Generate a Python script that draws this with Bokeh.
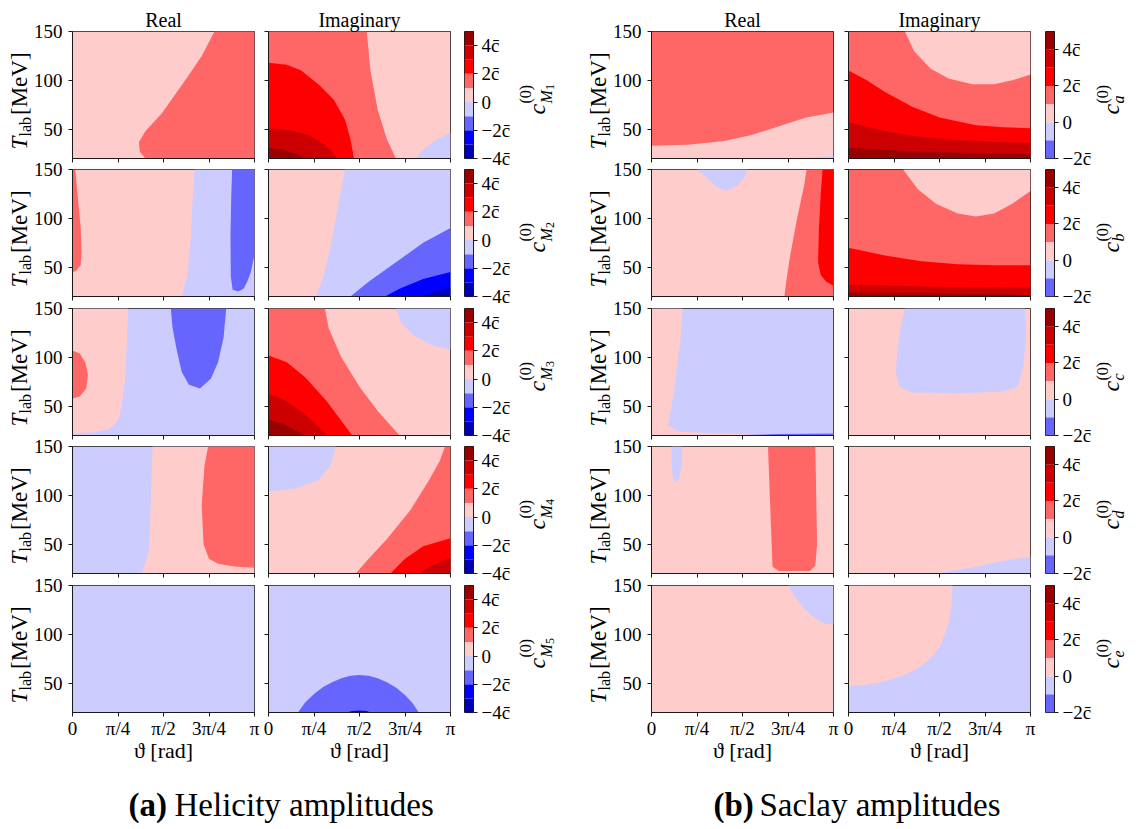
import math
from bokeh.plotting import figure
from bokeh.layouts import column, row
from bokeh.models import Label, FixedTicker, Range1d
from bokeh.embed import file_html
from bokeh.resources import INLINE

PI = math.pi
FONT = "Liberation Serif"

# ---------------- axes / scales ----------------
T_RANGE = (20, 150)
THETA_TICKS = [0.0, 0.25, 0.5, 0.75, 1.0]          # units of pi
THETA_TICK_LABELS = ["0", "π/4", "π/2", "3π/4", "π"]
T_TICKS = [50, 100, 150]
X_LABEL = "ϑ [rad]"

# colour bands: band k covers the level interval [k, k+1] (units of c-bar)
BAND_COLORS = {-4: "#0000b8", -3: "#0000ff", -2: "#6666ff", -1: "#ccccff",
               0: "#ffcccc", 1: "#ff6666", 2: "#ff0000", 3: "#cc0000", 4: "#990000"}

HEL_LEVELS = [-4, -3, -2, -1, 0, 1, 2, 3, 4, 5]
SAC_LEVELS = [-2, -1, 0, 1, 2, 3, 4, 5]
CB_TICKS = [-4, -2, 0, 2, 4]
CB_TICK_LABELS = ["−4c̄", "−2c̄", "0", "2c̄", "4c̄"]

COLUMN_TITLES = ["Real", "Imaginary"]
HEL_SUBS = ["1", "2", "3", "4", "5"]
SAC_SUBS = ["a", "b", "c", "d", "e"]
CAPTIONS = [("(a)", "Helicity amplitudes"), ("(b)", "Saclay amplitudes")]

# ---------------- contour regions ----------------
# each region: (band, theta/pi list, T_lab [MeV] list); *_base = background band
hel_M1_re_base = 0
hel_M1_re = [
    (1, [0.78, 1, 1, 0.40, 0.37, 0.365, 0.40, 0.49, 0.63, 0.71, 0.78],
        [150, 150, 20, 20, 27, 37, 48, 66, 103, 125, 150]),
]
hel_M1_im_base = 0
hel_M1_im = [
    (1, [0, 0.54, 0.56, 0.60, 0.65, 0.70, 0], [150, 150, 110, 70, 40, 20, 20]),
    (2, [0, 0.10, 0.18, 0.28, 0.36, 0.42, 0.45, 0.47, 0], [118, 116, 110, 95, 80, 60, 40, 20, 20]),
    (3, [0, 0.12, 0.22, 0.30, 0.35, 0.38, 0], [51, 49, 44, 35, 27, 20, 20]),
    (4, [0, 0.08, 0.16, 0.20, 0], [31, 29, 24, 20, 20]),
    (-1, [1, 0.93, 0.87, 0.83, 0.81, 1], [46, 40, 32, 25, 20, 20]),
]
hel_M2_re_base = 0
hel_M2_re = [
    (1, [0, 0.015, 0.03, 0.045, 0.05, 0.045, 0.02, 0], [150, 150, 120, 90, 65, 52, 46, 45]),
    (-1, [0.67, 1, 1, 0.60, 0.61, 0.63, 0.65, 0.66], [150, 150, 20, 20, 28, 40, 80, 120]),
    (-2, [0.877, 1, 1, 0.98, 0.96, 0.94, 0.91, 0.88, 0.87, 0.868, 0.872],
         [150, 150, 63, 45, 35, 28, 25, 27, 40, 80, 120]),
]
hel_M2_im_base = 0
hel_M2_im = [
    (-1, [0.42, 1, 1, 0.26, 0.30, 0.34, 0.38], [150, 150, 20, 20, 40, 70, 110]),
    (-2, [1, 0.85, 0.70, 0.55, 0.45, 1], [90, 75, 55, 35, 20, 20]),
    (-3, [1, 0.85, 0.72, 0.64, 1], [45, 38, 28, 20, 20]),
    (-4, [1, 0.92, 0.83, 1], [29, 25, 20, 20]),
]
hel_M3_re_base = -1
hel_M3_re = [
    (0, [0, 0.305, 0.30, 0.29, 0.27, 0.25, 0.20, 0.10, 0], [150, 150, 120, 80, 50, 35, 26, 23, 22]),
    (1, [0, 0.04, 0.07, 0.085, 0.075, 0.04, 0], [107, 104, 95, 82, 68, 60, 58]),
    (-2, [0.54, 0.845, 0.83, 0.80, 0.76, 0.70, 0.64, 0.60, 0.57, 0.55],
         [150, 150, 120, 95, 78, 68, 72, 85, 110, 130]),
]
hel_M3_im_base = 0
hel_M3_im = [
    (1, [0, 0.31, 0.33, 0.40, 0.50, 0.60, 0.72, 0], [150, 150, 130, 100, 70, 45, 20, 20]),
    (2, [0, 0.10, 0.20, 0.32, 0.40, 0.46, 0], [102, 95, 80, 55, 35, 20, 20]),
    (3, [0, 0.10, 0.20, 0.28, 0.32, 0], [63, 55, 42, 28, 20, 20]),
    (4, [0, 0.08, 0.15, 0.20, 0], [36, 32, 25, 20, 20]),
    (-1, [0.70, 1, 1, 0.90, 0.80, 0.73], [150, 150, 108, 112, 122, 135]),
]
hel_M4_re_base = -1
hel_M4_re = [
    (0, [0.44, 1, 1, 0.38, 0.40, 0.42, 0.43], [150, 150, 20, 20, 30, 45, 90]),
    (1, [0.745, 1, 1, 0.90, 0.80, 0.75, 0.72, 0.71, 0.725], [150, 150, 26, 27, 30, 35, 50, 90, 130]),
]
hel_M4_im_base = 0
hel_M4_im = [
    (-1, [0, 0.37, 0.34, 0.27, 0.15, 0], [150, 150, 130, 115, 107, 104]),
    (1, [0.97, 1, 1, 0.48, 0.55, 0.65, 0.78, 0.88, 0.94], [150, 150, 20, 20, 35, 55, 85, 115, 135]),
    (2, [1, 0.85, 0.75, 0.67, 1], [56, 48, 35, 20, 20]),
    (3, [1, 0.92, 0.85, 0.83, 1], [36, 30, 23, 20, 20]),
]
hel_M5_re_base = -1
hel_M5_re = []
hel_M5_im_base = -1
hel_M5_im = [
    (-2, [0.162, 0.20, 0.25, 0.30, 0.35, 0.40, 0.45, 0.495, 0.55, 0.60, 0.65, 0.70, 0.75, 0.79, 0.826],
         [20, 30, 39, 46, 51, 55, 57.5, 58.3, 57.5, 55, 51, 45.5, 38, 30, 20]),
    (-3, [0.43, 0.46, 0.50, 0.54, 0.56], [20, 21.5, 22, 21.5, 20]),
]

sac_a_re_base = 1
sac_a_re = [
    (0, [0, 0, 0.2, 0.4, 0.55, 0.7, 0.85, 1, 1], [20, 33, 34, 38, 44, 53, 62, 67, 20]),
    (-1, [0.745, 0.85, 1, 1], [20, 21, 22.5, 20]),
]
sac_a_im_base = 1
sac_a_im = [
    (0, [0.31, 0.36, 0.45, 0.55, 0.68, 0.80, 0.90, 1, 1], [150, 130, 112, 102, 96, 96, 100, 106, 150]),
    (2, [0, 0.1, 0.2, 0.35, 0.5, 0.7, 0.85, 1, 1, 0], [110, 100, 88, 73, 62, 54, 52, 51, 20, 20]),
    (3, [0, 0.2, 0.4, 0.6, 0.8, 1, 1, 0], [57, 48, 42, 39, 37, 36, 20, 20]),
    (4, [0, 0.3, 0.6, 1, 1, 0], [31, 28, 26, 25, 20, 20]),
]
sac_b_re_base = 0
sac_b_re = [
    (-1, [0.25, 0.30, 0.35, 0.41, 0.47, 0.51, 0.53], [150, 142, 133, 128, 133, 142, 150]),
    (1, [0.852, 1, 1, 0.73, 0.74, 0.76, 0.80, 0.84], [150, 150, 20, 20, 35, 60, 100, 135]),
    (2, [0.94, 1, 1, 0.96, 0.93, 0.915, 0.92, 0.93], [150, 150, 31, 35, 42, 55, 90, 125]),
]
sac_b_im_base = 1
sac_b_im = [
    (0, [0.30, 0.38, 0.48, 0.6, 0.7, 0.8, 0.9, 1, 1], [150, 130, 115, 105, 102, 105, 115, 128, 150]),
    (2, [0, 0.2, 0.4, 0.6, 0.8, 1, 1, 0], [70, 62, 56, 53, 52, 52, 20, 20]),
    (3, [0, 0.5, 1, 1, 0], [32, 30, 29, 20, 20]),
    (4, [0, 1, 1, 0], [24, 22, 20, 20]),
]
sac_c_re_base = -1
sac_c_re = [
    (0, [0, 0.17, 0.16, 0.14, 0.12, 0.10, 0.09, 0.15, 0.35, 0.6, 1, 1, 0],
        [150, 150, 120, 90, 60, 40, 30, 24, 22, 21, 20.8, 20, 20]),
    (-2, [0.4, 0.7, 1, 1], [20, 21.5, 22, 20]),
]
sac_c_im_base = 0
sac_c_im = [
    (-1, [0.31, 0.97, 0.975, 0.96, 0.93, 0.85, 0.6, 0.35, 0.28, 0.26, 0.27, 0.29],
         [150, 150, 120, 90, 70, 65, 63, 64, 70, 85, 110, 135]),
]
sac_d_re_base = 0
sac_d_re = [
    (-1, [0.11, 0.17, 0.165, 0.15, 0.13, 0.115, 0.11], [150, 150, 130, 116, 113, 120, 135]),
    (1, [0.64, 0.90, 0.905, 0.91, 0.90, 0.87, 0.70, 0.665, 0.66, 0.65],
        [150, 150, 100, 50, 28, 22.5, 22.5, 27, 50, 100]),
]
sac_d_im_base = 0
sac_d_im = [
    (-1, [1, 0.85, 0.7, 0.55, 0.5, 1], [37, 33, 27, 22, 20, 20]),
]
sac_e_re_base = 0
sac_e_re = [
    (-1, [0.75, 0.79, 0.84, 0.9, 0.95, 1, 1], [150, 138, 126, 116, 111, 110, 150]),
]
sac_e_im_base = -1
sac_e_im = [
    (0, [0, 0.572, 0.565, 0.55, 0.53, 0.50, 0.45, 0.38, 0.30, 0.20, 0.10, 0],
        [150, 150, 130, 112, 100, 87, 75, 65, 58, 52, 48.5, 47.5]),
]

HEL_PANELS = [
    ((hel_M1_re_base, hel_M1_re), (hel_M1_im_base, hel_M1_im)),
    ((hel_M2_re_base, hel_M2_re), (hel_M2_im_base, hel_M2_im)),
    ((hel_M3_re_base, hel_M3_re), (hel_M3_im_base, hel_M3_im)),
    ((hel_M4_re_base, hel_M4_re), (hel_M4_im_base, hel_M4_im)),
    ((hel_M5_re_base, hel_M5_re), (hel_M5_im_base, hel_M5_im)),
]
SAC_PANELS = [
    ((sac_a_re_base, sac_a_re), (sac_a_im_base, sac_a_im)),
    ((sac_b_re_base, sac_b_re), (sac_b_im_base, sac_b_im)),
    ((sac_c_re_base, sac_c_re), (sac_c_im_base, sac_c_im)),
    ((sac_d_re_base, sac_d_re), (sac_d_im_base, sac_d_im)),
    ((sac_e_re_base, sac_e_re), (sac_e_im_base, sac_e_im)),
]

# ---------------- layout constants (pixels) ----------------
W_TOTAL = 1138
FRAME_W, FRAME_H, CB_W = 182, 127, 9
ROW_TOP = [31, 6, 6, 6, 6]
ROW_BOTTOM = [5, 6, 5, 6, 58]
ROW_H = [t + FRAME_H + b for t, b in zip(ROW_TOP, ROW_BOTTOM)]
H_ROWS = sum(ROW_H)
FRAME_TOPS = [sum(ROW_H[:i]) + ROW_TOP[i] for i in range(5)]
BOTTOM_H = 829 - H_ROWS
YLAB_W = 65
CBLAB_W = [99, 77]
AX_COLOR = "#1a1a1a"
TICK_SIZE = 19


def add_label(p, text, x, y, size, style="normal", align="left", angle=0.0):
    p.add_layout(Label(x=x, y=y, text=text, text_font=FONT,
                       text_font_size=f"{size}px", text_font_style=style, text_align=align,
                       text_baseline="middle", angle=angle, text_color="black"))


def blank(width, height):
    p = figure(width=width, height=height, x_range=Range1d(0, width), y_range=Range1d(0, height),
               min_border=0, x_axis_location=None, y_axis_location=None,
               output_backend="svg", toolbar_location=None, tools="")
    p.grid.visible = False
    p.outline_line_color = None
    p.background_fill_color = "white"
    p.border_fill_color = "white"
    return p


def up(screen_y):
    """pixel row in the tall label strips -> strip data coordinate (y up)"""
    return H_ROWS - screen_y


def style_axis(ax, show_labels, standoff=0):
    ax.axis_line_color = AX_COLOR
    ax.major_tick_line_color = AX_COLOR
    ax.major_tick_out = 4
    ax.major_tick_in = 0
    ax.minor_tick_line_color = None
    ax.major_label_text_font = FONT
    if show_labels:
        ax.major_label_text_color = "black"
        ax.major_label_text_font_size = f"{TICK_SIZE}px"
        ax.major_label_standoff = standoff
    else:
        ax.major_label_text_color = None
        ax.major_label_text_font_size = "0px"
        ax.major_label_standoff = 0


def contour_panel(base, regions, left, right, top, bottom, xlabels, title):
    p = figure(frame_width=FRAME_W, frame_height=FRAME_H,
               x_range=Range1d(0, PI), y_range=Range1d(*T_RANGE),
               min_border_left=left, min_border_right=right,
               min_border_top=top, min_border_bottom=bottom,
               output_backend="svg", toolbar_location=None, tools="")
    p.quad(left=[0], right=[PI], bottom=[T_RANGE[0]], top=[T_RANGE[1]],
           fill_color=BAND_COLORS[base], line_color=None)
    for band, th, tv in regions:
        p.patch([a * PI for a in th], tv, fill_color=BAND_COLORS[band], line_color=None)
    p.grid.visible = False
    p.outline_line_color = AX_COLOR
    p.outline_line_width = 1
    p.background_fill_color = "white"
    p.border_fill_color = "white"
    p.xaxis.ticker = FixedTicker(ticks=[t * PI for t in THETA_TICKS])
    p.xaxis.major_label_overrides = {t * PI: s for t, s in zip(THETA_TICKS, THETA_TICK_LABELS)}
    p.yaxis.ticker = FixedTicker(ticks=T_TICKS)
    style_axis(p.xaxis[0], xlabels, 1)
    style_axis(p.yaxis[0], False)
    if xlabels:
        ax = p.xaxis[0]
        ax.axis_label = X_LABEL
        ax.axis_label_text_font = FONT
        ax.axis_label_text_font_size = "22px"
        ax.axis_label_text_font_style = "normal"
        ax.axis_label_text_color = "black"
        ax.axis_label_standoff = -4
    if title:
        p.title.text = title
        p.title.align = "center"
        p.title.text_font = FONT
        p.title.text_font_size = "20px"
        p.title.text_font_style = "normal"
        p.title.text_color = "black"
        p.title.standoff = 2
    return p


def colorbar(levels, left, right, top, bottom):
    p = figure(frame_width=CB_W, frame_height=FRAME_H,
               x_range=Range1d(0, 1), y_range=Range1d(levels[0], levels[-1]),
               min_border_left=left, min_border_right=right,
               min_border_top=top, min_border_bottom=bottom,
               x_axis_location=None, y_axis_location="right",
               output_backend="svg", toolbar_location=None, tools="")
    n = len(levels) - 1
    p.quad(left=[0] * n, right=[1] * n, bottom=levels[:-1], top=levels[1:],
           fill_color=[BAND_COLORS[b] for b in levels[:-1]], line_color=None)
    p.grid.visible = False
    p.outline_line_color = AX_COLOR
    p.background_fill_color = "white"
    p.border_fill_color = "white"
    p.yaxis.ticker = FixedTicker(ticks=[t for t in CB_TICKS if levels[0] <= t <= levels[-1]])
    style_axis(p.yaxis[0], False)
    return p


def ylabel_strip():
    """tall strip left of a panel column: y tick labels and rotated T_lab [MeV]"""
    p = blank(YLAB_W, H_ROWS)
    for i in range(5):
        top = FRAME_TOPS[i]
        for t in T_TICKS:
            sy = top + (T_RANGE[1] - t) / (T_RANGE[1] - T_RANGE[0]) * FRAME_H
            add_label(p, str(t), 62, up(sy), TICK_SIZE, align="right")
        y0 = up(top + FRAME_H - 9)
        add_label(p, "T", 18.8, y0, 23, style="italic", angle=PI / 2)
        add_label(p, "lab", 25.3, y0 + 13, 16, angle=PI / 2)
        add_label(p, " [MeV]", 18.8, y0 + 34.5, 23, angle=PI / 2)
    return p


def cblabel_strip(width, levels, subs, helicity):
    """tall strip right of a colorbar column: colorbar tick labels and c^(0)_sub"""
    p = blank(width, H_ROWS)
    lo, hi = levels[0], levels[-1]
    for i in range(5):
        top = FRAME_TOPS[i]
        for t, s in zip(CB_TICKS, CB_TICK_LABELS):
            if lo <= t <= hi:
                sy = top + (hi - t) / (hi - lo) * FRAME_H
                add_label(p, s, 1, up(sy), TICK_SIZE)
        y0 = up(top + FRAME_H - 44)
        if helicity:
            add_label(p, "c", 56.8, y0, 24, style="italic", angle=PI / 2)
            add_label(p, "(0)", 45.1, y0 + 11, 16, angle=PI / 2)
            add_label(p, "M", 65.6, y0 + 11, 16, style="italic", angle=PI / 2)
            add_label(p, subs[i], 69.5, y0 + 24.5, 12, angle=PI / 2)
        else:
            add_label(p, "c", 49.0, y0, 24, style="italic", angle=PI / 2)
            add_label(p, "(0)", 40.5, y0 + 11, 16, angle=PI / 2)
            add_label(p, subs[i], 57.0, y0 + 11, 16, style="italic", angle=PI / 2)
    return p


def panel_column(panels, part, left, right):
    figs = []
    for i in range(5):
        base, regions = panels[i][part]
        title = COLUMN_TITLES[part] if i == 0 else None
        figs.append(contour_panel(base, regions, left, right, ROW_TOP[i], ROW_BOTTOM[i],
                                  i == 4, title))
    return column(*figs, spacing=0)


def colorbar_column(levels, left, right):
    return column(*[colorbar(levels, left, right, ROW_TOP[i], ROW_BOTTOM[i]) for i in range(5)],
                  spacing=0)


grid = row(
    ylabel_strip(),
    panel_column(HEL_PANELS, 0, 7, 7),
    panel_column(HEL_PANELS, 1, 7, 7),
    colorbar_column(HEL_LEVELS, 7, 7),
    cblabel_strip(CBLAB_W[0], HEL_LEVELS, HEL_SUBS, True),
    ylabel_strip(),
    panel_column(SAC_PANELS, 0, 7, 7),
    panel_column(SAC_PANELS, 1, 8, 7),
    colorbar_column(SAC_LEVELS, 8, 7),
    cblabel_strip(CBLAB_W[1], SAC_LEVELS, SAC_SUBS, False),
    spacing=0,
)

# bottom strip: captions
bot = blank(W_TOTAL, BOTTOM_H)
cy = BOTTOM_H - 34.8
add_label(bot, CAPTIONS[0][0], 128, cy, 33, style="bold")
add_label(bot, CAPTIONS[0][1], 174, cy, 33)
add_label(bot, CAPTIONS[1][0], 713, cy, 33, style="bold")
add_label(bot, CAPTIONS[1][1], 759, cy, 33)

layout = column(grid, bot, spacing=0)
open("out.html", "w").write(file_html(layout, INLINE))
